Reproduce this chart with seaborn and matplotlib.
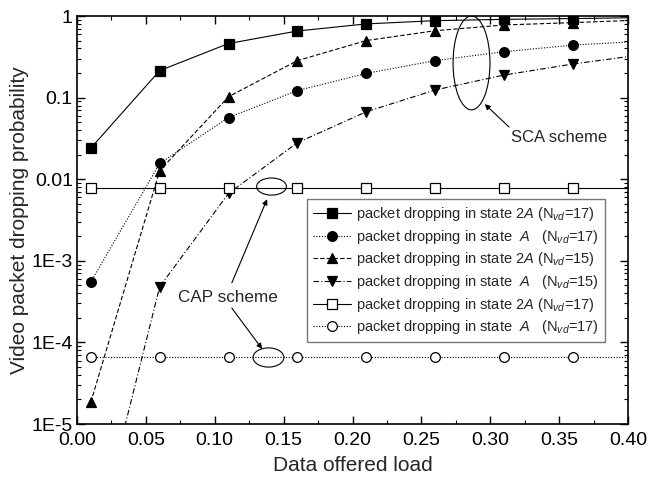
import numpy as np
import pandas as pd
import matplotlib
matplotlib.use("Agg")
import matplotlib.pyplot as plt
import matplotlib.ticker as mticker
from matplotlib.patches import Ellipse
import seaborn as sns

# ---- data ----
x_sca = [0.01, 0.06, 0.11, 0.16, 0.21, 0.26, 0.31, 0.36, 0.40]
sca_2a_17 = [0.024, 0.214, 0.46, 0.655, 0.80, 0.877, 0.91, 0.93, 0.95]
sca_a_17 = [5.5e-4, 0.0156, 0.057, 0.122, 0.198, 0.284, 0.365, 0.44, 0.48]
sca_2a_15 = [1.84e-5, 0.0127, 0.1026, 0.284, 0.50, 0.66, 0.776, 0.83, 0.88]
sca_a_15 = [2e-7, 4.8e-4, 0.0067, 0.028, 0.067, 0.124, 0.189, 0.258, 0.318]
cap_2a_17 = [0.0078, 0.0078, 0.0078, 0.0078, 0.0078, 0.0078, 0.0078, 0.0078, 0.0078]
cap_a_17 = [6.6e-5, 6.6e-5, 6.6e-5, 6.6e-5, 6.6e-5, 6.6e-5, 6.6e-5, 6.6e-5, 6.6e-5]

labels = [
    r"packet dropping in state $\mathit{2A}$ (N$_{\mathit{vd}}$=17)",
    r"packet dropping in state  $\mathit{A}$   (N$_{\mathit{vd}}$=17)",
    r"packet dropping in state $\mathit{2A}$ (N$_{\mathit{vd}}$=15)",
    r"packet dropping in state  $\mathit{A}$   (N$_{\mathit{vd}}$=15)",
    r"packet dropping in state $\mathit{2A}$ (N$_{\mathit{vd}}$=17)",
    r"packet dropping in state  $\mathit{A}$   (N$_{\mathit{vd}}$=17)",
]
xticks = [0.00, 0.05, 0.10, 0.15, 0.20, 0.25, 0.30, 0.35, 0.40]
yticks = [1e-5, 1e-4, 1e-3, 1e-2, 1e-1, 1]
ytick_labels = ["1E-5", "1E-4", "1E-3", "0.01", "0.1", "1"]

sns.set_theme(style="ticks")
plt.rcParams['font.family'] = ['Liberation Sans', 'DejaVu Sans']
plt.rcParams['mathtext.fontset'] = 'custom'
plt.rcParams['mathtext.rm'] = 'Liberation Sans'
plt.rcParams['mathtext.it'] = 'Liberation Sans:italic'
plt.rcParams['mathtext.bf'] = 'Liberation Sans:bold'

fig = plt.figure(figsize=(6.54, 4.79), dpi=100)
ax = fig.add_axes([77/654, 55/479, 551/654, 408/479])

styles = [
    (sca_2a_17, 's', '-', 'black'),
    (sca_a_17, 'o', (0, (1, 1.5)), 'black'),
    (sca_2a_15, '^', (0, (4, 2)), 'black'),
    (sca_a_15, 'v', (0, (5, 2, 1, 2)), 'black'),
    (cap_2a_17, 's', '-', 'white'),
    (cap_a_17, 'o', (0, (1, 1.5)), 'white'),
]
for (vals, mk, ls, fc), lab in zip(styles, labels):
    sns.lineplot(x=x_sca, y=vals, ax=ax, marker=mk, linestyle=ls, color='black',
                 markerfacecolor=fc, markeredgecolor='black', markersize=7,
                 markeredgewidth=0.9, linewidth=0.8, label=lab,
                 markevery=list(range(8)), estimator=None, sort=False)

ax.set_yscale('log')
ax.set_xlim(0, 0.40)
ax.set_ylim(1e-5, 1)
ax.xaxis.set_major_locator(mticker.FixedLocator(xticks))
ax.xaxis.set_major_formatter(mticker.FixedFormatter([f"{v:.2f}" for v in xticks]))
ax.xaxis.set_minor_locator(mticker.MultipleLocator(0.025))
ax.yaxis.set_major_locator(mticker.FixedLocator(yticks))
ax.yaxis.set_major_formatter(mticker.FixedFormatter(ytick_labels))
ax.yaxis.set_minor_locator(mticker.LogLocator(base=10, subs=np.arange(2, 10)))
ax.yaxis.set_minor_formatter(mticker.NullFormatter())
ax.tick_params(which='both', direction='in', top=True, right=True, labelsize=14, colors='black')
ax.tick_params(which='major', length=6, width=1.0)
ax.tick_params(axis='x', which='major', pad=6)
ax.tick_params(axis='y', which='major', pad=3)
ax.tick_params(which='minor', length=3, width=0.8)
for s in ax.spines.values():
    s.set_linewidth(1.2)
    s.set_color('black')

ax.set_xlabel("Data offered load", fontsize=15, labelpad=5)
ax.set_ylabel("Video packet dropping probability", fontsize=15, labelpad=2)

leg = ax.legend(loc='upper left', bbox_to_anchor=(0.417, 0.551), borderaxespad=0,
                fontsize=10.5, frameon=True, fancybox=False, shadow=False,
                handlelength=2.6, labelspacing=0.32, handletextpad=0.4,
                borderpad=0.4, edgecolor='#555555')
leg.get_frame().set_linewidth(1.0)

# annotations
tr = ax.transAxes
ax.add_patch(Ellipse((0.716, 0.885), 0.067, 0.230, transform=tr, fill=False, lw=0.8, color='black'))
ax.add_patch(Ellipse((0.353, 0.582), 0.054, 0.042, transform=tr, fill=False, lw=0.8, color='black'))
ax.add_patch(Ellipse((0.3475, 0.163), 0.056, 0.047, transform=tr, fill=False, lw=0.8, color='black'))
ax.text(0.875, 0.703, "SCA scheme", transform=tr, ha='center', va='center', fontsize=12)
ax.text(0.274, 0.311, "CAP scheme", transform=tr, ha='center', va='center', fontsize=12.3)
arrow = dict(arrowstyle='-|>', lw=0.8, color='black', mutation_scale=8, shrinkA=0, shrinkB=0)
ax.annotate("", xy=(0.740, 0.784), xytext=(0.784, 0.728), xycoords=tr, textcoords=tr, arrowprops=arrow)
ax.annotate("", xy=(0.345, 0.551), xytext=(0.281, 0.346), xycoords=tr, textcoords=tr, arrowprops=arrow)
ax.annotate("", xy=(0.336, 0.184), xytext=(0.281, 0.284), xycoords=tr, textcoords=tr, arrowprops=arrow)

fig.savefig("out.png", dpi=100)
